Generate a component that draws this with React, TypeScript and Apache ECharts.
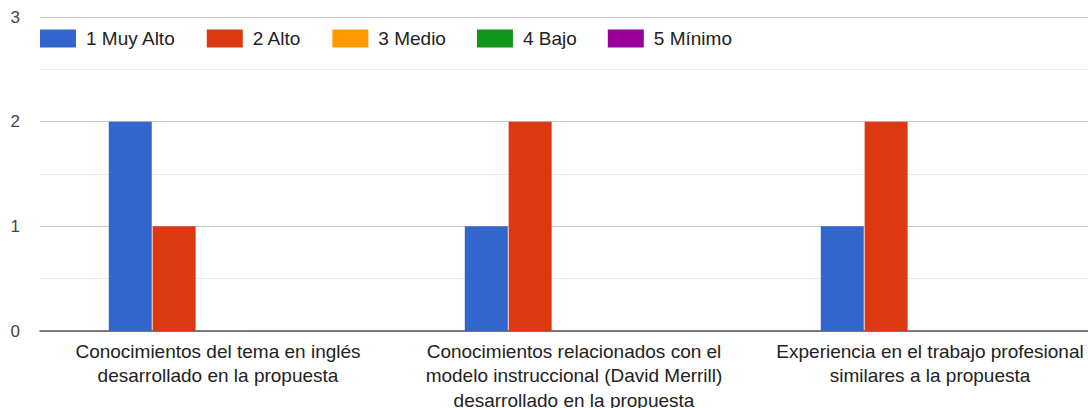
import React, { useEffect, useRef } from "react";
import * as echarts from "echarts";

const categories = [
  "Conocimientos del tema en inglés\ndesarrollado en la propuesta",
  "Conocimientos relacionados con el\nmodelo instruccional (David Merrill)\ndesarrollado en la propuesta",
  "Experiencia en el trabajo profesional\nsimilares a la propuesta",
];

const seriesNames = ["1 Muy Alto", "2 Alto", "3 Medio", "4 Bajo", "5 Mínimo"];
const seriesColors = ["#3366cc", "#dc3912", "#ff9900", "#109618", "#990099"];

const muyAlto = [2, 1, 1];
const alto = [1, 2, 2];
const medio = [0, 0, 0];
const bajo = [0, 0, 0];
const minimo = [0, 0, 0];

const seriesValues = [muyAlto, alto, medio, bajo, minimo];

const yTicks = [0, 1, 2, 3];

const FONT = "'Liberation Sans', Arial, sans-serif";

export default function App() {
  const ref = useRef<HTMLDivElement>(null);

  useEffect(() => {
    if (!ref.current) return;
    const chart = echarts.init(ref.current, null, { renderer: "svg" });
    chart.setOption({
      animation: false,
      textStyle: { fontFamily: FONT },
      legend: {
        left: 35,
        top: 24,
        itemWidth: 36,
        itemHeight: 18,
        itemGap: 31,
        icon: "rect",
        selectedMode: false,
        textStyle: { fontSize: 19, color: "#222", fontFamily: FONT, padding: [0, 0, 0, 5] },
        data: seriesNames,
      },
      grid: {
        left: 40,
        right: -20,
        top: 17,
        bottom: 77,
        containLabel: false,
        outerBoundsMode: "none",
      },
      xAxis: {
        type: "category",
        data: categories,
        axisTick: { show: false },
        axisLine: { lineStyle: { color: "#555", width: 1.5 } },
        axisLabel: {
          interval: 0,
          margin: 8,
          fontSize: 19,
          lineHeight: 24.5,
          color: "#222",
          fontFamily: FONT,
          align: "center",
        },
      },
      yAxis: {
        type: "value",
        min: yTicks[0],
        max: yTicks[yTicks.length - 1],
        interval: 1,
        axisLine: { show: false },
        axisTick: { show: false },
        axisLabel: { margin: 20, fontSize: 17, color: "#444", fontFamily: FONT },
        splitLine: { lineStyle: { color: "#cccccc", width: 1 } },
        minorTick: { show: false, splitNumber: 2 },
        minorSplitLine: { show: true, lineStyle: { color: "#ebebeb", width: 1 } },
      },
      series: seriesNames.map((name, i) => ({
        name,
        type: "bar",
        data: seriesValues[i],
        barWidth: 43,
        barGap: "2%",
        itemStyle: { color: seriesColors[i] },
      })),
    });
    return () => chart.dispose();
  }, []);

  return (
    <div
      ref={ref}
      style={{ position: "absolute", left: 0, top: 0, width: 1088, height: 408, background: "#fff" }}
    />
  );
}
